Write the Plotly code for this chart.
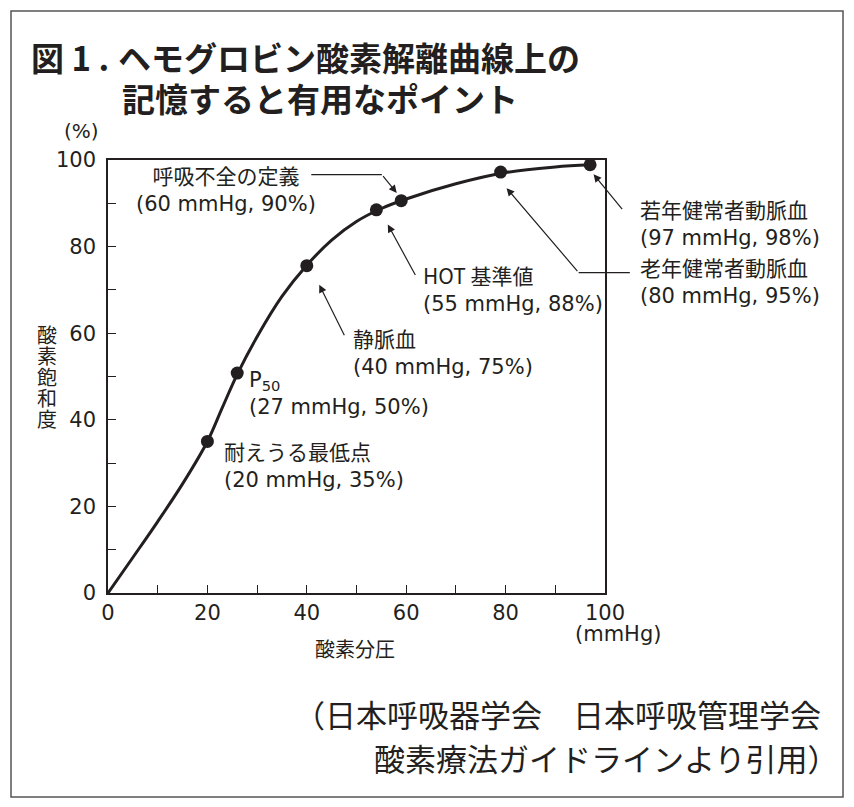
import plotly.graph_objects as go

# oxygen dissociation curve
po2_curve = [0, 5, 10, 15, 20, 23, 26, 30, 35, 40, 45, 50, 55, 60, 70, 80, 90, 97]
so2_curve = [0, 8.2, 16.5, 25.2, 35, 42.8, 50.5, 59.2, 68.5, 75.7, 81.5, 85.8, 88.8, 91, 94.5, 97.1, 98.4, 98.9]

# marked points
po2_pts = [20, 26, 40, 54, 59, 79, 97]
so2_pts = [35, 50.8, 75.6, 88.5, 90.6, 97.2, 98.9]

label_names = ["呼吸不全の定義", "HOT 基準値", "静脈血", "P<sub>50</sub>",
               "耐えうる最低点", "若年健常者動脈血", "老年健常者動脈血"]
label_values = ["60 mmHg, 90%", "55 mmHg, 88%", "40 mmHg, 75%", "27 mmHg, 50%",
                "20 mmHg, 35%", "97 mmHg, 98%", "80 mmHg, 95%"]

# page offset of the browser body (8px) is taken out of the figure size
OFF = 8
W, H = 854 - OFF, 807 - OFF
L, R, T, B = 108, 605, 160, 593
INK = "#231f20"
CJK = "Noto Sans CJK JP"
LAT = "DejaVu Sans, Noto Sans CJK JP"


def px(x):
    return (x - L) / (R - L)


def py(y):
    return (B - y) / (B - T)


fig = go.Figure()
fig.add_trace(go.Scatter(x=po2_curve, y=so2_curve, mode="lines",
                         line=dict(color=INK, width=3, shape="spline"),
                         hoverinfo="skip"))
fig.add_trace(go.Scatter(x=po2_pts, y=so2_pts, mode="markers",
                         marker=dict(color=INK, size=13), cliponaxis=False))

ann = []
# label text boxes: (x px, y px, anchor)
label_pos = [(226, 188, "center"), (421, 288, "left"), (351, 351, "left"),
             (247, 393, "left"), (222, 464, "left"), (638, 222, "left"),
             (638, 280, "left")]
for name, val, (x, y, a) in zip(label_names, label_values, label_pos):
    if name.startswith("P"):
        name = '<span style="font-family:DejaVu Sans">' + name + "</span>"
    txt = (name + '<br><span style="font-family:DejaVu Sans;font-size:21px">('
           + val + ")</span>")
    ann.append(dict(text=txt, x=px(x), y=py(y), xanchor=a, align=a,
                    font=dict(family=CJK, size=21, color=INK)))

# leader lines (data coords): tail -> tip, head flag
leaders = [
    (40.6, 96.6, 55.1, 96.6, 0), (55.1, 96.6, 58.1, 92.4, 2),
    (62.0, 73.1, 56.3, 85.1, 2),
    (47.7, 59.2, 42.5, 71.2, 2),
    (105.3, 88.3, 103.7, 88.3, 0), (103.7, 88.3, 97.7, 96.7, 2),
    (105.3, 74.0, 94.7, 74.0, 0), (94.7, 74.0, 80.2, 93.5, 2),
]
for x0, y0, x1, y1, head in leaders:
    ann.append(dict(text="", x=x1, y=y1, ax=x0, ay=y0, xref="x", yref="y",
                    axref="x", ayref="y", showarrow=True, arrowhead=head,
                    arrowsize=1.3, arrowwidth=1.2, arrowcolor=INK, standoff=0,
                    startstandoff=0))

# titles and axis texts
title_font = dict(family=CJK, size=33, color=INK, weight="bold")
ann += [
    dict(text="図 1 .", x=px(29), y=py(57), xanchor="left", font=title_font),
    dict(text="ヘモグロビン酸素解離曲線上の", x=px(116), y=py(57),
         xanchor="left", font=title_font),
    dict(text="記憶すると有用なポイント", x=px(120), y=py(98),
         xanchor="left", font=title_font),
    dict(text="(%)", x=px(81), y=py(131), xanchor="center",
         font=dict(family=LAT, size=20, color=INK)),
    dict(text="酸素分圧", x=px(355), y=py(648), xanchor="center",
         font=dict(family=CJK, size=20, color=INK)),
    dict(text="(mmHg)", x=px(618), y=py(634),
         xanchor="center", font=dict(family=LAT, size=21, color=INK)),
    dict(text="（日本呼吸器学会　日本呼吸管理学会", x=px(823), y=py(713),
         xanchor="right", font=dict(family=CJK, size=31, color=INK)),
    dict(text="酸素療法ガイドラインより引用）", x=px(840), y=py(757),
         xanchor="right", font=dict(family=CJK, size=31, color=INK)),
]
for i, ch in enumerate("酸素飽和度"):
    ann.append(dict(text=ch, x=px(47), y=py(334 + 21 * i), xanchor="center",
                    font=dict(family=CJK, size=20, color=INK)))
for a in ann:
    a.setdefault("xref", "paper")
    a.setdefault("yref", "paper")
    a.setdefault("yanchor", "middle")
    a.setdefault("showarrow", False)

axis = dict(range=[0, 100], dtick=20, ticks="inside", ticklen=8,
            tickwidth=1.2, tickcolor=INK, showline=True, linecolor=INK,
            linewidth=1.5, mirror=True, showgrid=False, zeroline=False,
            tickfont=dict(family="DejaVu Sans", size=21, color=INK),
            minor=dict(dtick=10, ticks="inside", ticklen=8, tickwidth=1.2,
                       tickcolor=INK, showgrid=False))

fig.update_layout(
    width=W, height=H, showlegend=False,
    margin=dict(l=L - OFF, r=W - (R - OFF), t=T - OFF, b=H - (B - OFF)),
    paper_bgcolor="white", plot_bgcolor="white",
    xaxis=dict(axis, ticklabelstandoff=0),
    yaxis=dict(axis, ticklabelstandoff=6),
    annotations=ann,
    shapes=[dict(type="rect", xref="paper", yref="paper",
                 x0=px(11), x1=px(843), y0=py(797), y1=py(11),
                 line=dict(color="#555555", width=1.5))],
)

fig.write_html("out.html")
